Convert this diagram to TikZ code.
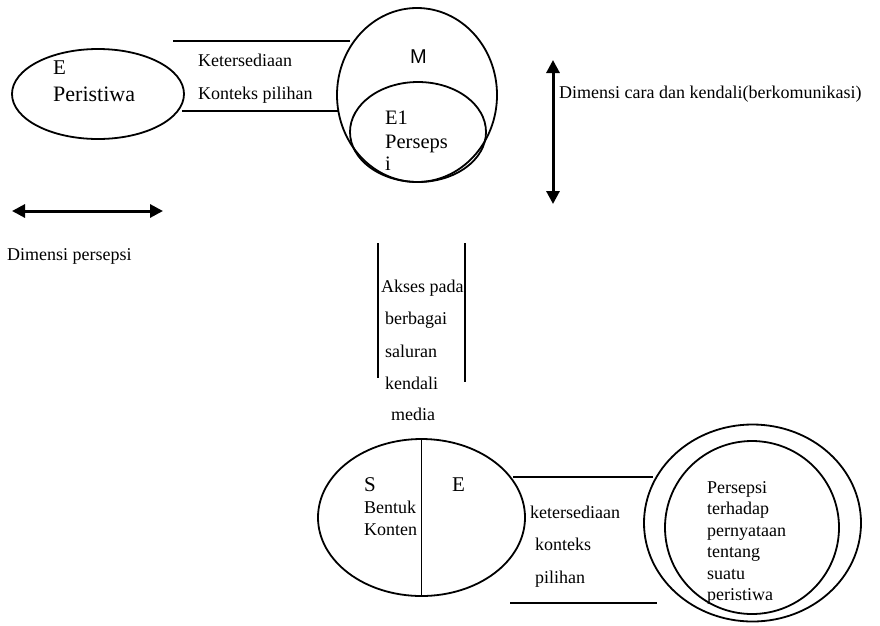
\documentclass[tikz,border=0pt]{standalone}
\usepackage{fontspec}
\setmainfont{Liberation Serif}
\newfontfamily\arialf{Liberation Sans}
\usetikzlibrary{shapes.geometric,arrows.meta}
\begin{document}
\begin{tikzpicture}[x=1pt,y=-1pt,
  oval/.style={draw, ellipse, line width=1.8pt, inner sep=0pt},
  lbl/.style={anchor=base west, inner sep=0pt, font=\fontsize{18}{20}\selectfont},
  big/.style={anchor=base west, inner sep=0pt, font=\fontsize{21}{23}\selectfont},
  bar/.style={line width=2.4pt},
  dimarrow/.style={line width=3pt, {Triangle[length=13pt,width=13pt]}-{Triangle[length=13pt,width=13pt]}}]
\useasboundingbox (0,0) rectangle (880,625);

% top left ellipse
\node[oval, minimum width=172pt, minimum height=90pt] (ev) at (98,94) {};
\node[big] (tE) at (53,74) {E};
\node[big, font=\fontsize{22}{24}\selectfont] (tPer) at (53,101) {Peristiwa};

% connecting lines top
\coordinate (l1a) at (173,41); \coordinate (l1b) at (350,41);
\coordinate (l2a) at (182,111); \coordinate (l2b) at (338,111);
\draw[bar] (l1a) -- (l1b);
\draw[bar] (l2a) -- (l2b);
\node[lbl] (tKet) at (198,66) {Ketersediaan};
\node[lbl] (tKon) at (198,99) {Konteks pilihan};

% M circle with E1
\node[oval, minimum width=160pt, minimum height=174pt] (m) at (417,95) {};
\node[oval, minimum width=136pt, minimum height=100pt] (e1) at (418,132) {};
\node[anchor=base west, inner sep=0pt, font=\arialf\fontsize{20}{22}\selectfont] (tM) at (410,63) {M};
\node[lbl, font=\fontsize{20.5}{22}\selectfont] (tE1) at (385,124) {E1};
\node[lbl, font=\fontsize{20.5}{22}\selectfont] (tPs) at (385,148) {Perseps};
\node[lbl, font=\fontsize{20.5}{22}\selectfont] (tI) at (385,170) {i};

% vertical arrow
\coordinate (va1) at (553,60); \coordinate (va2) at (553,204);
\draw[dimarrow] (va1) -- (va2);
\node[lbl] (tDc) at (559,98) {Dimensi cara dan kendali(berkomunikasi)};

% horizontal arrow
\coordinate (ha1) at (12,211); \coordinate (ha2) at (163,211);
\draw[dimarrow] (ha1) -- (ha2);
\node[lbl] (tDp) at (7,260) {Dimensi persepsi};

% middle channel
\coordinate (v1a) at (378,243); \coordinate (v1b) at (378,378);
\coordinate (v2a) at (465,243); \coordinate (v2b) at (465,382);
\draw[bar, line width=2.8pt] (v1a) -- (v1b);
\draw[bar, line width=2.8pt] (v2a) -- (v2b);
\node[lbl] (tAk) at (381,292) {Akses pada};
\node[lbl] (tBe) at (385,324) {berbagai};
\node[lbl] (tSa) at (385,357) {saluran};
\node[lbl] (tKe) at (385,389) {kendali};
\node[lbl] (tMe) at (391,420) {media};

% bottom ellipse S | E
\node[oval, minimum width=207pt, minimum height=157pt] (se) at (421.5,517.5) {};
\draw[line width=1.8pt] (se.north) -- (se.south);
\node[big] (tS) at (364,491) {S};
\node[lbl] (tBn) at (364,513) {Bentuk};
\node[lbl] (tKo) at (364,535) {Konten};
\node[big] (tE2) at (452,491) {E};

% bottom lines
\coordinate (b1a) at (513,477); \coordinate (b1b) at (653,477);
\coordinate (b2a) at (510,603); \coordinate (b2b) at (657,603);
\draw[bar] (b1a) -- (b1b);
\draw[bar] (b2a) -- (b2b);
\node[lbl] (tk1) at (530,518) {ketersediaan};
\node[lbl] (tk2) at (535,550) {konteks};
\node[lbl] (tk3) at (535,583) {pilihan};

% double circle
\node[oval, minimum width=217pt, minimum height=197pt] (oc) at (752.5,523) {};
\node[oval, minimum width=174pt, minimum height=173pt] (ic) at (752,527.5) {};
\node[lbl] (p1) at (707,493) {Persepsi};
\node[lbl] (p2) at (707,514.5) {terhadap};
\node[lbl] (p3) at (707,536) {pernyataan};
\node[lbl] (p4) at (707,557.5) {tentang};
\node[lbl] (p5) at (707,579) {suatu};
\node[lbl] (p6) at (707,600.5) {peristiwa};
\end{tikzpicture}
\end{document}
